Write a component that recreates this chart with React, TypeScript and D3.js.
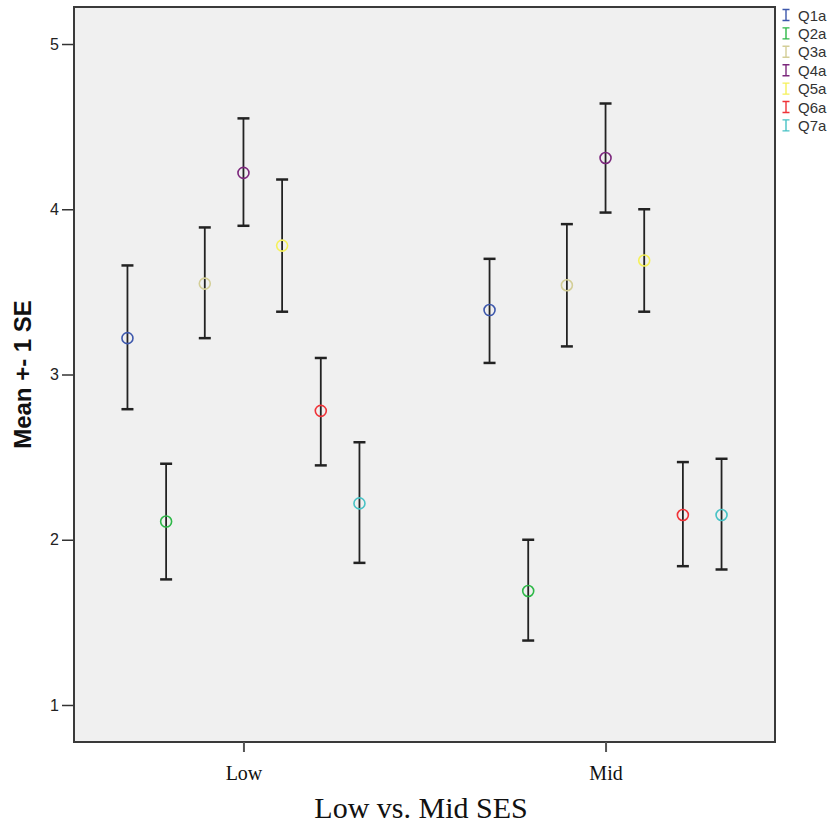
import React, { useRef, useEffect } from 'react';
import * as d3 from 'd3';

const groups = ['Low', 'Mid'];
const series = ['Q1a', 'Q2a', 'Q3a', 'Q4a', 'Q5a', 'Q6a', 'Q7a'];
const colors = ['#3e58ac', '#2eb848', '#d3ce97', '#7c287d', '#f5f15a', '#ef3338', '#48c2c5'];

// mean and +-1 SE bounds, per series, for each SES group
const lowMean = [3.22, 2.11, 3.55, 4.22, 3.78, 2.78, 2.22];
const lowUpper = [3.66, 2.46, 3.89, 4.55, 4.18, 3.10, 2.59];
const lowLower = [2.79, 1.76, 3.22, 3.90, 3.38, 2.45, 1.86];
const midMean = [3.39, 1.69, 3.54, 4.31, 3.69, 2.15, 2.15];
const midUpper = [3.70, 2.00, 3.91, 4.64, 4.00, 2.47, 2.49];
const midLower = [3.07, 1.39, 3.17, 3.98, 3.38, 1.84, 1.82];

const yTicks = [1, 2, 3, 4, 5];

const App = () => {
  const ref = useRef<SVGSVGElement>(null);

  useEffect(() => {
    const left = 74, right = 775, top = 7, bottom = 742;
    const svg = d3.select(ref.current);
    svg.selectAll('*').remove();

    const rows = [
      { g: 'Low', mean: lowMean, up: lowUpper, lo: lowLower },
      { g: 'Mid', mean: midMean, up: midUpper, lo: midLower },
    ];

    const x = d3.scalePoint().domain(groups).range([left, right]).padding(0.468);
    const offset = d3.scaleLinear().domain([0, series.length - 1]).range([-116, 116]);
    const y = d3.scaleLinear().domain([0.776, 5.224]).range([bottom, top]);

    svg.append('rect')
      .attr('x', left).attr('y', top)
      .attr('width', right - left).attr('height', bottom - top)
      .attr('fill', '#f0f0f0')
      .attr('stroke', '#3a3a3a')
      .attr('stroke-width', 2);

    // y axis
    const yAxis = svg.append('g')
      .attr('transform', `translate(${left - 1},0)`)
      .call(d3.axisLeft(y).tickValues(yTicks).tickSize(11).tickPadding(3).tickFormat(d3.format('d')));
    yAxis.select('.domain').remove();
    yAxis.selectAll('line').attr('stroke', '#333').attr('stroke-width', 1.5);
    yAxis.selectAll('text')
      .attr('font-family', '"Liberation Sans", Arial, sans-serif')
      .attr('font-size', 16)
      .attr('fill', '#222');

    // x axis
    const xAxis = svg.append('g')
      .attr('transform', `translate(0,${bottom})`)
      .call(d3.axisBottom(x).tickSize(10).tickPadding(14));
    xAxis.select('.domain').remove();
    xAxis.selectAll('line').attr('stroke', '#555').attr('stroke-width', 2);
    xAxis.selectAll('text')
      .attr('font-family', '"Liberation Serif", "Times New Roman", serif')
      .attr('font-size', 20)
      .attr('fill', '#111');

    // error bars and means
    rows.forEach(r => {
      series.forEach((s, i) => {
        const cx = x(r.g) + offset(i);
        const bar = svg.append('g');
        bar.append('line')
          .attr('x1', cx).attr('x2', cx)
          .attr('y1', y(r.up[i])).attr('y2', y(r.lo[i]))
          .attr('stroke', '#222').attr('stroke-width', 1.8);
        [r.up[i], r.lo[i]].forEach(v => {
          bar.append('line')
            .attr('x1', cx - 6).attr('x2', cx + 6)
            .attr('y1', y(v)).attr('y2', y(v))
            .attr('stroke', '#222').attr('stroke-width', 2.5);
        });
        bar.append('circle')
          .attr('cx', cx).attr('cy', y(r.mean[i]))
          .attr('r', 5.5)
          .attr('fill', 'none')
          .attr('stroke', colors[i])
          .attr('stroke-width', 1.6);
      });
    });

    // legend
    const legend = svg.append('g');
    series.forEach((s, i) => {
      const ly = 15 + i * 18.4;
      const item = legend.append('g').attr('transform', `translate(786,${ly})`);
      item.append('path')
        .attr('d', 'M-3.5,-5.5H3.5M0,-5.5V5.5M-3.5,5.5H3.5')
        .attr('stroke', colors[i]).attr('stroke-width', 1.4).attr('fill', 'none');
      item.append('text')
        .attr('x', 12).attr('y', 5.5)
        .attr('font-family', '"Liberation Sans", Arial, sans-serif')
        .attr('font-size', 15)
        .attr('fill', '#333')
        .text(s);
    });

    // titles
    svg.append('text')
      .attr('transform', `translate(31,${(top + bottom) / 2}) rotate(-90)`)
      .attr('text-anchor', 'middle')
      .attr('font-family', '"Liberation Sans", Arial, sans-serif')
      .attr('font-weight', 'bold')
      .attr('font-size', 24)
      .attr('fill', '#111')
      .text('Mean +- 1 SE');

    svg.append('text')
      .attr('x', 421).attr('y', 818)
      .attr('text-anchor', 'middle')
      .attr('font-family', '"Liberation Serif", "Times New Roman", serif')
      .attr('font-size', 30)
      .attr('fill', '#111')
      .text('Low vs. Mid SES');
  }, []);

  return (
    <svg
      ref={ref}
      width={838}
      height={828}
      style={{ position: 'absolute', left: 0, top: 0, background: '#fff' }}
    />
  );
};

export default App;
